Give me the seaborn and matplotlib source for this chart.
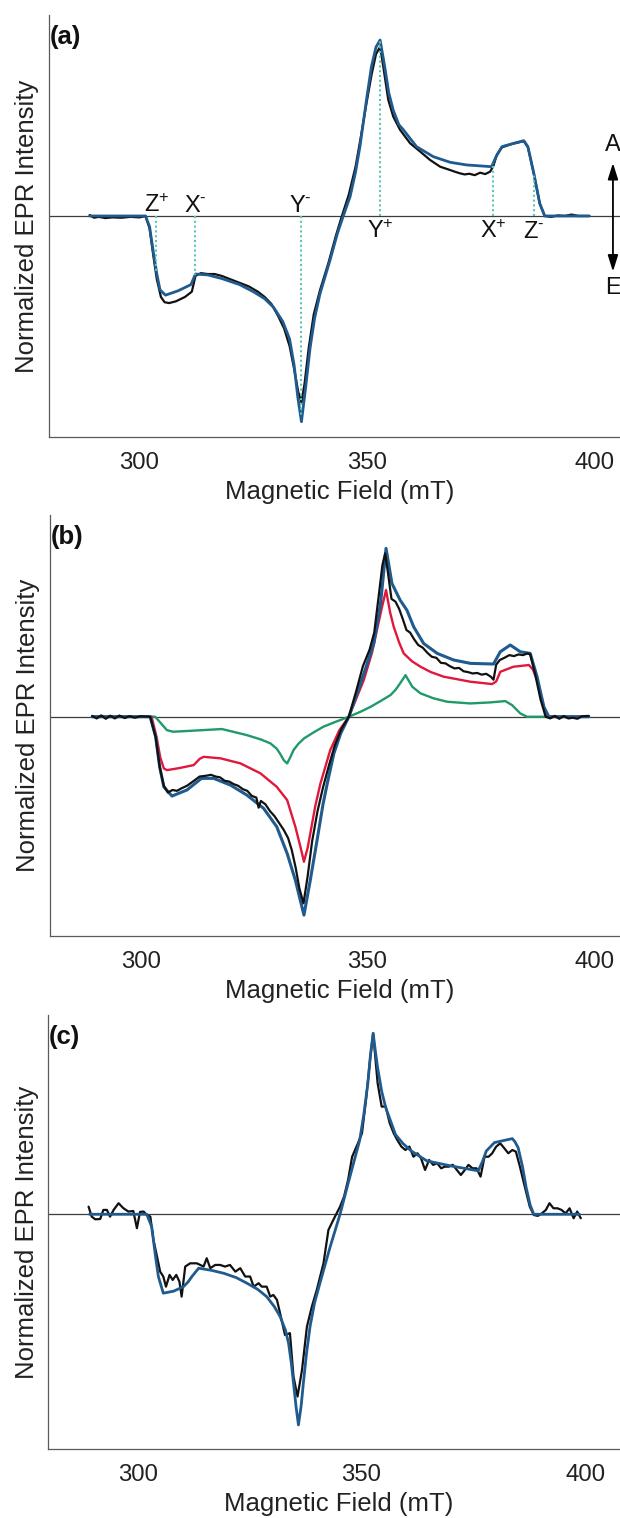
import numpy as np
import matplotlib
matplotlib.use("Agg")
import matplotlib.pyplot as plt
import seaborn as sns

# ---------------- data ----------------
# Panel (a): experiment (black) and simulation (blue)
field_a_exp = [289.0, 290.0, 291.0, 292.5, 294.0, 296.0, 298.0, 300.0, 301.3, 302.2, 303.0, 303.8,
               304.7, 305.5, 306.5, 308.0, 310.0, 311.5, 312.3, 313.5, 315.0, 316.5, 318.0, 320.0,
               322.0, 324.0, 326.0, 327.5, 329.0, 330.5, 331.8, 333.0, 334.0, 334.9, 335.6, 336.3,
               337.2, 338.3, 339.7, 341.5, 343.2, 344.5, 346.0, 347.5, 348.6, 349.9, 351.0, 352.0,
               352.9, 353.6, 354.7, 355.8, 357.3, 359.5, 361.7, 363.9, 366.1, 368.3, 369.5, 370.5,
               371.5, 372.5, 373.7, 374.9, 376.0, 377.1, 377.8, 378.6, 379.7, 382.0, 384.5, 385.4,
               386.7, 388.0, 389.1, 390.5, 392.0, 393.5, 395.0, 396.5, 398.9]
int_a_exp = [0.005, -0.010, -0.005, -0.012, -0.008, -0.010, -0.005, -0.008, 0.000, -0.07, -0.22, -0.36,
             -0.46, -0.49, -0.495, -0.485, -0.46, -0.43, -0.34, -0.325, -0.33, -0.33, -0.34, -0.36,
             -0.38, -0.40, -0.43, -0.46, -0.50, -0.57, -0.64, -0.74, -0.87, -1.00, -1.06, -0.95,
             -0.75, -0.56, -0.42, -0.27, -0.11, 0.00, 0.12, 0.28, 0.44, 0.64, 0.80, 0.92,
             0.962, 0.848, 0.659, 0.564, 0.489, 0.413, 0.366, 0.318, 0.28, 0.261, 0.25, 0.242,
             0.236, 0.24, 0.232, 0.246, 0.238, 0.252, 0.284, 0.35, 0.39, 0.41, 0.425, 0.39,
             0.24, 0.07, 0.0, -0.005, 0.003, 0.0, 0.008, 0.0, 0.0]
field_a_sim = [289.1, 301.3, 302.2, 303.0, 303.8, 304.5, 305.7, 308.5, 311.3, 312.3, 315.0, 318.0,
               322.0, 325.0, 327.5, 329.5, 331.5, 333.0, 334.0, 334.8, 335.6, 336.5, 337.5, 338.5,
               339.7, 341.9, 343.5, 344.8, 346.3, 347.5, 348.5, 349.9, 351.0, 352.0, 352.9, 353.9,
               354.8, 355.8, 357.0, 358.0, 360.9, 364.6, 368.3, 371.9, 377.4, 378.4, 379.7, 382.3,
               384.5, 385.4, 386.7, 388.0, 389.1, 398.9]
int_a_sim = [0.0, 0.0, -0.06, -0.20, -0.33, -0.42, -0.45, -0.425, -0.39, -0.33, -0.335, -0.355,
             -0.39, -0.43, -0.47, -0.52, -0.60, -0.70, -0.85, -1.03, -1.169, -0.98, -0.75, -0.58,
             -0.44, -0.25, -0.10, 0.0, 0.11, 0.25, 0.40, 0.66, 0.85, 0.96, 1.0, 0.85,
             0.70, 0.60, 0.52, 0.49, 0.394, 0.337, 0.305, 0.29, 0.28, 0.337, 0.394, 0.413,
             0.428, 0.394, 0.242, 0.072, 0.0, 0.0]

# canonical orientation turning points marked in (a)
turning_labels = ["Z$^{+}$", "X$^{\u2010}$", "Y$^{\u2010}$", "Y$^{+}$", "X$^{+}$", "Z$^{\u2010}$"]
turning_fields = [303.7, 312.2, 335.4, 352.9, 377.8, 386.7]

# Panel (b): experiment, total simulation and its two components
field_b_exp = [289.3, 290.3, 291.3, 292.3, 293.3, 294.3, 295.3, 296.5, 297.5, 298.7, 300.0, 302.1,
               303.3, 304.2, 305.1, 306.0, 307.0, 308.0, 309.0, 310.2, 311.5, 313.0, 314.5, 315.5,
               316.5, 317.5, 318.5, 319.5, 320.5, 321.5, 322.5, 323.5, 324.5, 325.5, 326.0, 326.5,
               327.5, 328.5, 329.5, 330.5, 331.5, 332.5, 333.3, 334.2, 335.0, 335.9, 336.8, 337.8,
               339.0, 340.2, 341.5, 342.8, 344.3, 345.9, 347.5, 349.0, 350.5, 351.5, 352.5, 353.3,
               353.9, 354.5, 355.3, 356.2, 357.0, 357.8, 358.6, 359.4, 360.3, 361.2, 362.2, 363.2,
               364.2, 365.2, 366.2, 367.2, 368.2, 369.2, 370.2, 371.2, 372.2, 373.2, 374.2, 375.2,
               376.2, 377.2, 377.8, 378.4, 379.2, 380.2, 381.3, 382.3, 383.3, 384.3, 385.3, 385.9,
               387.0, 388.2, 389.3, 390.3, 391.3, 392.3, 393.3, 394.3, 395.3, 396.3, 397.3, 398.8]
int_b_exp = [0.005, -0.010, 0.008, -0.012, 0.006, -0.010, 0.007, -0.008, 0.004, -0.006, 0.003, 0.0,
             -0.12, -0.30, -0.41, -0.45, -0.435, -0.44, -0.425, -0.41, -0.385, -0.355, -0.35, -0.345,
             -0.355, -0.36, -0.38, -0.385, -0.40, -0.41, -0.43, -0.44, -0.47, -0.48, -0.54, -0.50,
             -0.52, -0.56, -0.59, -0.63, -0.67, -0.72, -0.79, -0.90, -1.02, -1.108, -0.95, -0.74,
             -0.56, -0.42, -0.29, -0.17, -0.07, 0.0, 0.15, 0.30, 0.40, 0.50, 0.72, 0.90,
             0.97, 0.86, 0.70, 0.683, 0.64, 0.58, 0.515, 0.50, 0.46, 0.426, 0.41, 0.38,
             0.356, 0.35, 0.32, 0.317, 0.30, 0.287, 0.29, 0.27, 0.265, 0.257, 0.26, 0.25,
             0.255, 0.238, 0.22, 0.31, 0.337, 0.35, 0.366, 0.36, 0.37, 0.366, 0.376, 0.37,
             0.25, 0.10, 0.0, -0.010, 0.005, -0.012, 0.004, -0.010, -0.006, -0.012, 0.003, 0.005]
field_b_sim = [289.3, 302.1, 303.3, 304.2, 305.1, 306.9, 310.2, 313.4, 316.1, 319.8, 323.4, 327.1,
               330.0, 332.3, 334.1, 336.0, 337.4, 338.9, 340.2, 341.3, 342.6, 344.1, 345.9, 348.5,
               351.4, 352.9, 354.1, 355.4, 357.2, 358.7, 360.2, 362.4, 365.4, 369.0, 372.7, 377.8,
               379.3, 381.5, 383.7, 385.9, 387.4, 388.9, 390.0, 398.8]
int_b_sim = [0.0, 0.0, -0.12, -0.30, -0.416, -0.471, -0.435, -0.366, -0.366, -0.406, -0.465, -0.544,
             -0.653, -0.812, -0.97, -1.178, -0.97, -0.732, -0.52, -0.376, -0.218, -0.099, 0.0, 0.198,
             0.435, 0.673, 1.0, 0.792, 0.693, 0.633, 0.534, 0.435, 0.376, 0.337, 0.317, 0.313,
             0.386, 0.426, 0.386, 0.376, 0.238, 0.059, 0.0, 0.0]
field_b_red = [289.3, 302.4, 303.5, 304.3, 305.1, 305.8, 308.5, 311.7, 313.0, 313.9, 317.6, 322.0,
               326.4, 330.0, 332.3, 334.1, 335.2, 336.0, 336.8, 337.4, 338.5, 339.6, 341.8, 343.8,
               345.9, 349.2, 351.0, 352.1, 353.2, 354.1, 355.0, 355.8, 357.0, 358.0, 359.8, 361.7,
               364.0, 366.8, 372.7, 377.5, 378.4, 379.3, 382.2, 385.6, 386.5, 387.4, 388.9, 389.6, 398.8]
int_b_red = [0.0, 0.0, -0.12, -0.24, -0.307, -0.317, -0.305, -0.287, -0.25, -0.238, -0.247, -0.277,
             -0.336, -0.416, -0.495, -0.653, -0.77, -0.861, -0.78, -0.693, -0.53, -0.40, -0.198, -0.08,
             0.0, 0.218, 0.38, 0.515, 0.65, 0.752, 0.62, 0.534, 0.44, 0.376, 0.33, 0.297,
             0.265, 0.238, 0.208, 0.194, 0.21, 0.267, 0.297, 0.307, 0.28, 0.218, 0.059, 0.0, 0.0]
field_b_green = [289.3, 303.2, 304.5, 305.8, 307.2, 312.0, 317.9, 320.5, 323.4, 326.5, 328.6, 330.0,
                 330.7, 331.6, 332.3, 333.0, 333.7, 334.8, 336.0, 338.0, 340.3, 343.0, 345.9, 348.5,
                 350.7, 353.0, 355.1, 356.2, 357.2, 358.4, 359.2, 359.9, 361.7, 364.5, 367.6, 372.7,
                 377.0, 380.4, 381.9, 383.7, 385.2, 398.8]
int_b_green = [0.0, 0.0, -0.04, -0.08, -0.089, -0.082, -0.073, -0.09, -0.109, -0.135, -0.158, -0.19,
               -0.218, -0.26, -0.277, -0.24, -0.198, -0.16, -0.129, -0.095, -0.059, -0.03, 0.0, 0.03,
               0.059, 0.095, 0.129, 0.16, 0.198, 0.247, 0.21, 0.178, 0.139, 0.11, 0.089, 0.079,
               0.085, 0.093, 0.069, 0.02, 0.0, 0.0]

# Panel (c): noisier experiment and simulation
field_c_exp = [289.0, 289.7, 290.5, 291.6, 292.3, 293.1, 293.8, 294.6, 295.7, 296.8, 297.9, 299.0,
               299.8, 300.5, 301.3, 302.0, 302.8, 303.5, 304.3, 305.0, 305.7, 306.3, 307.1, 307.8,
               308.6, 309.3, 309.8, 310.6, 311.7, 313.2, 314.7, 315.4, 316.2, 317.3, 318.4, 319.5,
               320.6, 321.8, 322.9, 324.0, 325.1, 325.9, 327.0, 327.7, 328.8, 329.6, 330.3, 331.1,
               331.8, 332.9, 334.0, 334.8, 335.7, 336.7, 337.8, 338.9, 340.0, 341.5, 342.6, 343.7,
               345.2, 346.1, 347.0, 347.9, 349.2, 350.1, 351.0, 351.9, 352.6, 353.6, 354.5, 355.4,
               356.3, 357.2, 358.0, 358.9, 359.8, 360.7, 361.6, 362.5, 363.3, 364.2, 365.1, 366.0,
               366.9, 367.8, 368.6, 369.5, 370.4, 371.3, 372.2, 373.1, 373.9, 374.8, 375.7, 376.6,
               377.5, 378.4, 379.2, 380.1, 381.0, 381.9, 382.8, 383.7, 384.5, 385.4, 386.3, 387.6,
               388.5, 389.4, 390.3, 391.2, 392.0, 392.9, 393.8, 394.7, 395.6, 396.5, 397.4, 398.2, 399.0]
int_c_exp = [0.042, -0.013, -0.028, -0.026, 0.024, 0.024, -0.013, 0.024, 0.061, 0.033, 0.015, 0.018,
             -0.077, 0.013, 0.015, -0.004, -0.013, -0.142, -0.234, -0.317, -0.344, -0.40, -0.335, -0.363,
             -0.335, -0.372, -0.455, -0.289, -0.271, -0.271, -0.289, -0.243, -0.298, -0.28, -0.28, -0.289,
             -0.28, -0.317, -0.298, -0.344, -0.344, -0.40, -0.381, -0.40, -0.40, -0.455, -0.446, -0.473,
             -0.547, -0.667, -0.657, -0.897, -1.007, -0.86, -0.621, -0.51, -0.418, -0.271, -0.087, -0.031,
             0.042, 0.098, 0.19, 0.318, 0.392, 0.447, 0.632, 0.853, 1.0, 0.724, 0.595, 0.595,
             0.503, 0.447, 0.41, 0.374, 0.355, 0.374, 0.318, 0.337, 0.309, 0.245, 0.30, 0.273,
             0.282, 0.254, 0.263, 0.263, 0.273, 0.245, 0.217, 0.245, 0.273, 0.254, 0.254, 0.208,
             0.318, 0.318, 0.337, 0.374, 0.392, 0.365, 0.337, 0.355, 0.346, 0.263, 0.171, 0.042,
             -0.004, -0.009, 0.005, 0.024, 0.061, 0.033, 0.033, 0.024, 0.005, 0.033, -0.022, 0.015, -0.022]
field_c_sim = [289.2, 302.0, 303.1, 304.0, 304.6, 305.7, 308.0, 310.2, 311.2, 312.1, 313.6, 316.5,
               319.2, 322.0, 324.4, 326.8, 328.8, 330.5, 331.8, 333.0, 333.7, 334.3, 334.8, 335.4,
               335.9, 336.5, 337.0, 337.7, 338.5, 339.5, 340.7, 343.0, 345.2, 347.0, 348.3, 349.6,
               350.5, 351.4, 352.0, 352.6, 353.1, 353.6, 354.5, 355.4, 357.6, 359.3, 361.1, 364.6,
               370.0, 376.1, 377.0, 377.9, 379.7, 383.7, 384.3, 385.0, 386.0, 386.8, 387.7, 388.5, 398.7]
int_c_sim = [0.0, 0.0, -0.068, -0.24, -0.344, -0.436, -0.425, -0.40, -0.375, -0.344, -0.298, -0.31,
             -0.326, -0.35, -0.381, -0.415, -0.455, -0.51, -0.565, -0.64, -0.713, -0.82, -0.934, -1.07,
             -1.164, -1.06, -0.934, -0.77, -0.62, -0.49, -0.381, -0.179, 0.0, 0.17, 0.29, 0.41,
             0.55, 0.72, 0.88, 1.0, 0.90, 0.81, 0.68, 0.59, 0.44, 0.39, 0.35, 0.295,
             0.267, 0.24, 0.29, 0.35, 0.396, 0.418, 0.40, 0.368, 0.26, 0.147, 0.05, 0.0, 0.0]

# ---------------- style ----------------
sns.set_style("white")
plt.rcParams["font.family"] = ["Liberation Sans", "DejaVu Sans"]
plt.rcParams["mathtext.fontset"] = "custom"
plt.rcParams["mathtext.rm"] = "Liberation Sans"
plt.rcParams["mathtext.default"] = "regular"

BLACK = "#111111"
BLUE = "#1f5b8e"
RED = "#e1173c"
GREEN = "#1f9a68"
TEAL = "#5cc6b6"
AXIS = "#5a5a5a"

TICK_FS = 17.3
LABEL_FS = 18.5

fig = plt.figure(figsize=(6.2, 15.18), dpi=100)
W, H = 620.0, 1518.0


def make_axes(left_px, top_px, bottom_px, right_px=630.0):
    return fig.add_axes([left_px / W, 1 - bottom_px / H,
                         (right_px - left_px) / W, (bottom_px - top_px) / H])


def style_axes(ax, xlim, ylim, tag):
    ax.set_xlim(*xlim)
    ax.set_ylim(*ylim)
    ax.set_xticks([300, 350, 400])
    ax.set_yticks([])
    for side in ("top", "right"):
        ax.spines[side].set_visible(False)
    for side in ("left", "bottom"):
        ax.spines[side].set_color(AXIS)
        ax.spines[side].set_linewidth(0.9)
    ax.tick_params(axis="x", direction="in", length=4.5, width=0.9, color=AXIS,
                   labelsize=TICK_FS, pad=11, labelcolor="#222222")
    ax.axhline(0, color="#3c3c3c", lw=0.9, zorder=1)
    ax.set_xlabel("Magnetic Field (mT)", fontsize=LABEL_FS, color="#222222", labelpad=4)
    ax.set_ylabel("Normalized EPR Intensity", fontsize=LABEL_FS, color="#222222", labelpad=7)
    ax.annotate(tag, xy=(0, 1), xycoords="axes fraction", xytext=(0.5, -15.5),
                textcoords="offset points", ha="left", va="center",
                fontsize=LABEL_FS, fontweight="bold", color="#111111")
    ax.grid(False)


def trace(ax, x, y, color, lw, z):
    sns.lineplot(x=np.asarray(x), y=np.asarray(y), ax=ax, color=color,
                 linewidth=lw, zorder=z, estimator=None, legend=False)


# ---------------- (a) ----------------
ax_a = make_axes(48.6, 15, 437)
trace(ax_a, field_a_exp, int_a_exp, BLACK, 1.6, 3)
trace(ax_a, field_a_sim, int_a_sim, BLUE, 2.0, 4)
style_axes(ax_a, (280, 407.85), (-1.256, 1.142), "(a)")

for lab, xf in zip(turning_labels, turning_fields):
    yv = float(np.interp(xf, field_a_sim, int_a_sim))
    ax_a.vlines(xf, 0, yv, colors=TEAL, linestyles=(0, (1, 1.3)), lw=1.5, zorder=5)
    if yv < 0:
        ax_a.annotate(lab, xy=(xf, 0), xytext=(0, 3), textcoords="offset points",
                      ha="center", va="baseline", fontsize=17, color="#111111")
    else:
        ax_a.annotate(lab, xy=(xf, 0), xytext=(0, -16.2), textcoords="offset points",
                      ha="center", va="baseline", fontsize=17, color="#111111")

# absorption / emission arrow
ax_a.annotate("", xy=(404.1, -0.316), xytext=(404.1, 0.301),
              arrowprops=dict(arrowstyle="<|-|>,head_length=0.7,head_width=0.22",
                              color="black", lw=1.3, mutation_scale=14,
                              shrinkA=0, shrinkB=0))
ax_a.text(404.1, 0.403, "A", ha="center", va="center", fontsize=17, color="#111111")
ax_a.text(404.1, -0.409, "E", ha="center", va="center", fontsize=17, color="#111111")

# ---------------- (b) ----------------
ax_b = make_axes(50.0, 515, 936)
trace(ax_b, field_b_green, int_b_green, GREEN, 1.7, 2)
trace(ax_b, field_b_red, int_b_red, RED, 1.7, 2)
trace(ax_b, field_b_sim, int_b_sim, BLUE, 2.2, 3)
trace(ax_b, field_b_exp, int_b_exp, BLACK, 1.6, 4)
style_axes(ax_b, (280, 407.9), (-1.302, 1.198), "(b)")

# ---------------- (c) ----------------
ax_c = make_axes(48.3, 1015, 1449)
trace(ax_c, field_c_exp, int_c_exp, BLACK, 1.6, 3)
trace(ax_c, field_c_sim, int_c_sim, BLUE, 2.0, 4)
style_axes(ax_c, (280, 410), (-1.297, 1.101), "(c)")

fig.savefig("out.png", dpi=100)
